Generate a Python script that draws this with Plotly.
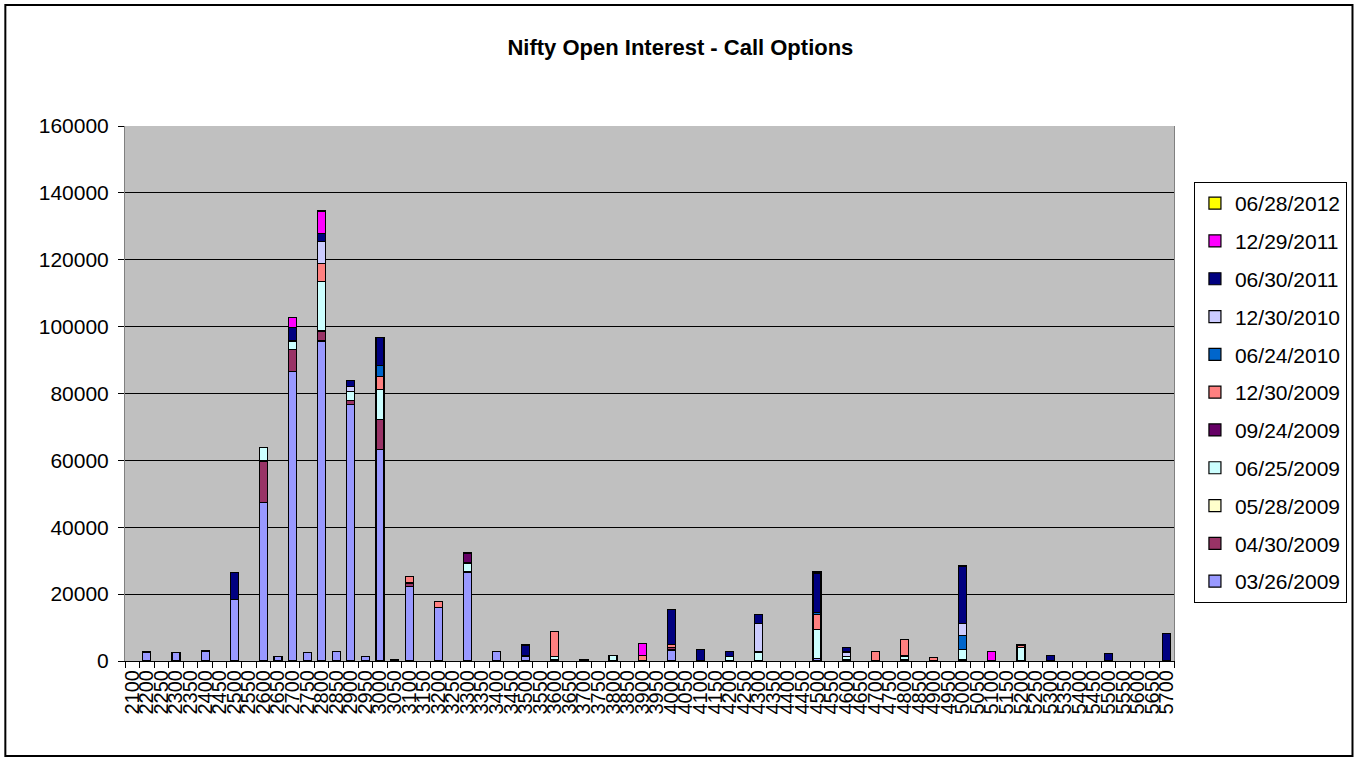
import plotly.graph_objects as go

strikes = ["2100"] + [str(v) for v in range(2200, 5701, 50)]

s_2009_03_26 = [0, 2700, 0, 2500, 0, 3000, 0, 18500, 0, 47300, 1300, 86600,
                2500, 95700, 2900, 76600, 1300, 63300, 0, 22300, 0, 16100, 0, 26600,
                0, 2900, 0, 1500, 0, 0, 0, 0, 0, 0, 0, 0,
                0, 3300, 0, 0, 0, 0, 0, 0, 0, 0, 0, 700,
                0, 400, 0, 0, 0, 0, 0, 0, 0, 500, 0, 0,
                0, 0, 0, 0, 0, 0, 0, 0, 0, 0, 0, 0]
s_2009_04_30 = [0, 0, 0, 0, 0, 0, 0, 0, 0, 12500, 0, 6600,
                0, 3000, 0, 1200, 0, 9000, 0, 1000, 0, 0, 0, 0,
                0, 0, 0, 0, 0, 400, 0, 0, 0, 0, 0, 0,
                0, 700, 0, 0, 0, 0, 0, 0, 0, 0, 0, 0,
                0, 0, 0, 0, 0, 500, 0, 0, 0, 0, 0, 0,
                0, 0, 0, 0, 0, 0, 0, 0, 0, 0, 0, 0]
s_2009_05_28 = [0] * 72
s_2009_06_25 = [0, 0, 0, 0, 0, 0, 0, 0, 0, 4100, 0, 2500,
                0, 14900, 0, 2700, 0, 9000, 0, 0, 0, 0, 0, 2700,
                0, 0, 0, 0, 0, 1000, 0, 0, 0, 1600, 0, 0,
                0, 0, 0, 0, 0, 1300, 0, 2700, 0, 0, 0, 8800,
                0, 1000, 0, 0, 0, 1000, 0, 0, 0, 3000, 0, 0,
                0, 4100, 0, 0, 0, 0, 0, 0, 0, 0, 0, 0]
s_2009_09_24 = [0, 0, 0, 0, 0, 0, 0, 0, 0, 0, 0, 0,
                0, 0, 0, 0, 0, 0, 0, 0, 0, 0, 0, 3000,
                0, 0, 0, 0, 0, 0, 0, 0, 0, 0, 0, 0,
                0, 0, 0, 0, 0, 0, 0, 0, 0, 0, 0, 0,
                0, 0, 0, 0, 0, 0, 0, 0, 0, 0, 0, 0,
                0, 0, 0, 0, 0, 0, 0, 0, 0, 0, 0, 0]
s_2009_12_30 = [0, 0, 0, 0, 0, 0, 0, 0, 0, 0, 0, 0,
                0, 5200, 0, 0, 0, 3700, 0, 1900, 0, 1800, 0, 0,
                0, 0, 0, 0, 0, 7500, 0, 0, 0, 0, 0, 1600,
                0, 1000, 0, 0, 0, 0, 0, 0, 0, 0, 0, 4400,
                0, 0, 0, 2900, 0, 5000, 0, 1000, 0, 0, 0, 0,
                0, 700, 0, 0, 0, 0, 0, 0, 0, 0, 0, 0]
s_2010_06_24 = [0, 0, 0, 0, 0, 0, 0, 0, 0, 0, 0, 0,
                0, 0, 0, 0, 0, 3400, 0, 0, 0, 0, 0, 0,
                0, 0, 0, 0, 0, 0, 0, 0, 0, 0, 0, 0,
                0, 0, 0, 0, 0, 0, 0, 0, 0, 0, 0, 500,
                0, 0, 0, 0, 0, 0, 0, 0, 0, 4100, 0, 0,
                0, 0, 0, 0, 0, 0, 0, 0, 0, 0, 0, 0]
s_2010_12_30 = [0, 0, 0, 0, 0, 0, 0, 0, 0, 0, 0, 0,
                0, 6600, 0, 1700, 0, 0, 0, 0, 0, 0, 0, 0,
                0, 0, 0, 0, 0, 0, 0, 0, 0, 0, 0, 0,
                0, 0, 0, 0, 0, 0, 0, 8500, 0, 0, 0, 0,
                0, 1300, 0, 0, 0, 0, 0, 0, 0, 3600, 0, 0,
                0, 0, 0, 0, 0, 0, 0, 0, 0, 0, 0, 0]
s_2011_06_30 = [0, 0, 0, 0, 0, 0, 0, 8000, 0, 0, 0, 4100,
                0, 2500, 0, 1700, 0, 8300, 500, 0, 0, 0, 0, 0,
                0, 0, 0, 3300, 0, 0, 0, 500, 0, 0, 0, 0,
                0, 10500, 0, 3500, 0, 1600, 0, 2600, 0, 0, 0, 11800,
                0, 1300, 0, 0, 0, 0, 0, 0, 0, 17200, 0, 0,
                0, 0, 0, 1600, 0, 0, 0, 2200, 0, 0, 0, 8300]
s_2011_12_29 = [0, 0, 0, 0, 0, 0, 0, 0, 0, 0, 0, 2900,
                0, 6700, 0, 0, 0, 0, 0, 0, 0, 0, 0, 0,
                0, 0, 0, 0, 0, 0, 0, 0, 0, 0, 0, 3700,
                0, 0, 0, 0, 0, 0, 0, 0, 0, 0, 0, 400,
                0, 0, 0, 0, 0, 0, 0, 0, 0, 0, 0, 2900,
                0, 0, 0, 0, 0, 0, 0, 0, 0, 0, 0, 0]
s_2012_06_28 = [0] * 72

series_names = ["03/26/2009", "04/30/2009", "05/28/2009", "06/25/2009", "09/24/2009",
                "12/30/2009", "06/24/2010", "12/30/2010", "06/30/2011", "12/29/2011",
                "06/28/2012"]
series_values = [s_2009_03_26, s_2009_04_30, s_2009_05_28, s_2009_06_25, s_2009_09_24,
                 s_2009_12_30, s_2010_06_24, s_2010_12_30, s_2011_06_30, s_2011_12_29,
                 s_2012_06_28]
series_colors = ["#9999FF", "#993366", "#FFFFCC", "#CCFFFF", "#660066",
                 "#FF8080", "#0066CC", "#CCCCFF", "#000080", "#FF00FF", "#FFFF00"]

y_ticks = [0, 20000, 40000, 60000, 80000, 100000, 120000, 140000, 160000]

FONT = "Liberation Sans, Arial, sans-serif"

fig = go.Figure()
n = len(series_names)
for i, (name, vals, col) in enumerate(zip(series_names, series_values, series_colors)):
    fig.add_trace(go.Bar(
        x=strikes, y=[v if v else None for v in vals], name=name, legendgroup=name,
        legendrank=100 + (n - i),
        marker=dict(color=col, line=dict(color="black", width=1.2)),
    ))

W, H = 1359, 758
L, R, T, B = 125, 182, 126, 97
pw = W - L - R
ph = H - T - B

def px_to_paper_x(px):
    return (px - L) / pw

def px_to_paper_y(py):
    return (H - B - py) / ph

fig.update_layout(
    width=W, height=H,
    barmode="stack", bargap=0.45,
    paper_bgcolor="white", plot_bgcolor="#C0C0C0",
    margin=dict(l=L, r=R, t=T, b=B, pad=0),
    font=dict(family=FONT, size=20, color="black"),
    title=dict(text="<b>Nifty Open Interest - Call Options</b>",
               x=px_to_paper_x(682), xref="paper", xanchor="center",
               y=1 - 47 / H, yref="container", yanchor="middle",
               font=dict(family=FONT, size=22, color="black")),
    showlegend=True,
    legend=dict(
        x=px_to_paper_x(1197), y=px_to_paper_y(182), xanchor="left", yanchor="top",
        traceorder="grouped", tracegroupgap=7.5,
        bordercolor="black", borderwidth=1, bgcolor="white",
        font=dict(family=FONT, size=21, color="black"),
    ),
    xaxis=dict(
        type="category", tickmode="array", tickvals=strikes, ticktext=strikes,
        tickangle=-90, tickfont=dict(family=FONT, size=20, color="black"),
        ticks="outside", tickson="boundaries", ticklen=6, tickcolor="black",
        showline=True, linecolor="black", linewidth=1, mirror=False,
        showgrid=False, zeroline=False,
        range=[-0.5, len(strikes) - 0.5],
    ),
    yaxis=dict(
        range=[0, 160000], tickmode="array", tickvals=y_ticks,
        ticktext=[str(v) for v in y_ticks],
        tickfont=dict(family=FONT, size=21, color="black"),
        ticks="outside", ticklen=6, tickcolor="black", ticklabelstandoff=5,
        showgrid=True, gridcolor="black", gridwidth=1,
        showline=True, linecolor="#808080", linewidth=1, mirror=True,
        zeroline=False,
    ),
    shapes=[dict(type="rect", xref="paper", yref="paper",
                 x0=px_to_paper_x(5), x1=px_to_paper_x(1356),
                 y0=px_to_paper_y(756), y1=px_to_paper_y(5),
                 line=dict(color="black", width=2), fillcolor="rgba(0,0,0,0)",
                 layer="below")],
)

fig.write_html("out.html",
               config={"displayModeBar": False},
               post_script="document.body.style.margin='0';document.body.style.overflow='hidden';")
